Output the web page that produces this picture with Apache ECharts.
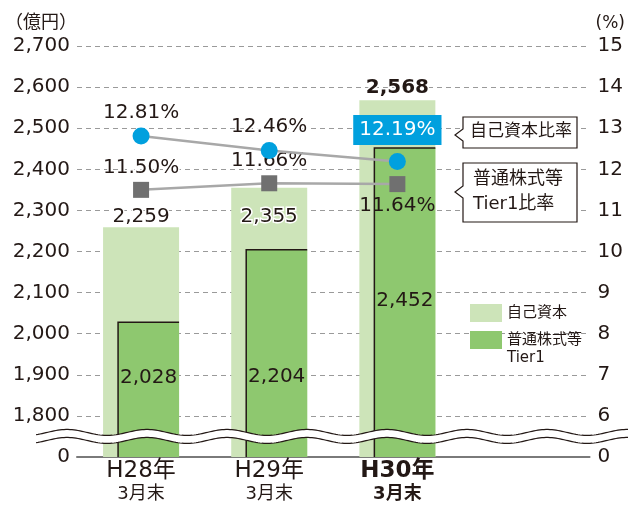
<!DOCTYPE html>
<html>
<head>
<meta charset="utf-8">
<script src="https://cdn.jsdelivr.net/npm/echarts@6/dist/echarts.min.js"></script>
<style>
  html, body { margin: 0; padding: 0; background: #fff; }
  #main { width: 628px; height: 509px; }
</style>
</head>
<body>
<div id="main"></div>
<script>
const years = ['H28年', 'H29年', 'H30年'];
const monthEnd = '3月末';
const capital = [2259, 2355, 2568];          // 自己資本（億円）
const cet1 = [2028, 2204, 2452];             // 普通株式等Tier1（億円）
const capitalRatio = [12.81, 12.46, 12.19];  // 自己資本比率（%）
const cet1Ratio = [11.50, 11.66, 11.64];     // 普通株式等Tier1比率（%）
// 軸は途中を省略（波線）しているので、最下段の目盛りは「0」と表示
const amountTicks = ['0', '1,800', '1,900', '2,000', '2,100', '2,200', '2,300', '2,400', '2,500', '2,600', '2,700'];
const ratioTicks = ['0', '6', '7', '8', '9', '10', '11', '12', '13', '14', '15'];

const FONT = '"DejaVu Sans", "Noto Sans CJK JP", sans-serif';
const INK = '#231815';
const LIGHT = '#cde4b9';
const DARK = '#8ec86f';
const BLUE = '#00a0de';
const AMOUNT_MIN = 1700;
const RATIO_MIN = 5;

const fmt = v => v.toLocaleString('en-US');

const myChart = echarts.init(document.getElementById('main'));

// ラベル位置は元図に合わせて個別に調整
const capitalOffsets = [[0, 1], [0, 40], [0, -1]];
const cet1Offsets = [[0, -12], [0, 23], [0, -2]];

let option = {
  animation: false,
  textStyle: { fontFamily: FONT, color: INK },
  grid: { left: 77, right: 37, top: 46, bottom: 52 },
  legend: {
    data: [
      { name: '自己資本' },
      { name: '普通株式等Tier1', textStyle: { padding: [18, 0, 0, 0] } }
    ],
    orient: 'vertical',
    left: 470,
    top: 304,
    padding: 0,
    itemWidth: 32,
    itemHeight: 18,
    itemGap: 9,
    icon: 'rect',
    selectedMode: false,
    formatter: name => name === '普通株式等Tier1' ? '{a|普通株式等}\n{a|Tier1}' : '{a|' + name + '}',
    textStyle: {
      fontFamily: FONT,
      color: INK,
      rich: { a: { fontSize: 15, lineHeight: 18, fontFamily: FONT, color: INK } }
    }
  },
  xAxis: {
    type: 'category',
    data: years.concat(['']),
    axisTick: { show: false },
    axisLine: { lineStyle: { color: '#7a7a7a', width: 2 } },
    axisLabel: {
      margin: 2,
      interval: 0,
      formatter: (v, i) => {
        if (!v) return '';
        return i === 2 ? '{hb|' + v + '}\n{mb|' + monthEnd + '}' : '{h|' + v + '}\n{m|' + monthEnd + '}';
      },
      rich: {
        h: { fontSize: 23, lineHeight: 24, fontFamily: FONT, color: INK },
        m: { fontSize: 18, lineHeight: 22, fontFamily: FONT, color: INK },
        hb: { fontSize: 23, lineHeight: 24, fontWeight: 'bold', fontFamily: FONT, color: INK },
        mb: { fontSize: 18, lineHeight: 22, fontWeight: 'bold', fontFamily: FONT, color: INK }
      }
    }
  },
  yAxis: [
    {
      type: 'value',
      min: AMOUNT_MIN,
      max: 2700,
      interval: 100,
      name: '（億円）',
      nameGap: 14,
      nameTextStyle: { fontSize: 18, align: 'right', padding: [0, 0, 0, 0], color: INK, fontFamily: FONT },
      axisLine: { show: false },
      axisTick: { show: false },
      axisLabel: {
        margin: 7,
        fontSize: 20,
        color: INK,
        formatter: v => amountTicks[Math.round((v - AMOUNT_MIN) / 100)]
      },
      splitLine: { lineStyle: { color: '#9a9a9a', type: [5, 4], width: 1.2 } }
    },
    {
      type: 'value',
      min: RATIO_MIN,
      max: 15,
      interval: 1,
      position: 'right',
      name: '(%)',
      nameGap: 14,
      nameTextStyle: { fontSize: 17, align: 'left', padding: [0, 0, 0, 6], color: INK, fontFamily: FONT },
      axisLine: { show: false },
      axisTick: { show: false },
      axisLabel: {
        margin: 8,
        fontSize: 20,
        color: INK,
        formatter: v => ratioTicks[Math.round(v - RATIO_MIN)]
      },
      splitLine: { show: false }
    }
  ],
  series: [
    {
      name: '自己資本',
      type: 'bar',
      barWidth: 76,
      barGap: '-80.26%',
      itemStyle: { color: LIGHT },
      data: capital.map((v, i) => ({
        value: v,
        label: {
          show: true,
          position: 'top',
          distance: 0,
          offset: capitalOffsets[i],
          fontSize: 20,
          lineHeight: 22,
          fontWeight: i === 2 ? 'bold' : 'normal',
          color: INK,
          textBorderColor: '#fff',
          textBorderWidth: 3,
          formatter: fmt(v)
        }
      }))
    },
    {
      name: '普通株式等Tier1',
      type: 'bar',
      barWidth: 61,
      barGap: '-80.26%',
      itemStyle: { color: DARK },
      data: cet1.map((v, i) => ({
        value: v,
        label: {
          show: true,
          position: 'inside',
          offset: cet1Offsets[i],
          fontSize: 20,
          lineHeight: 22,
          color: INK,
          formatter: fmt(v)
        }
      }))
    },
    {
      // 濃い棒の左辺と上辺の黒線
      type: 'custom',
      z: 3,
      silent: true,
      data: cet1.map((v, i) => [i, v]),
      encode: { x: 0, y: 1 },
      renderItem: function (params, api) {
        const top = api.coord([api.value(0), api.value(1)]);
        const base = api.coord([api.value(0), AMOUNT_MIN]);
        const left = top[0] - 23;
        const right = top[0] + 38;
        return {
          type: 'polyline',
          shape: { points: [[left, base[1]], [left, top[1]], [right, top[1]]] },
          style: { stroke: INK, lineWidth: 1.5, fill: null }
        };
      }
    },
    {
      name: '自己資本比率',
      type: 'line',
      yAxisIndex: 1,
      z: 6,
      symbol: 'circle',
      symbolSize: 17,
      itemStyle: { color: BLUE },
      lineStyle: { color: '#a8a8a8', width: 2.5 },
      data: capitalRatio.map((v, i) => ({
        value: v,
        label: i === 2 ? {
          show: true, position: 'top', distance: 4, offset: [0, -4],
          fontSize: 20, lineHeight: 22, color: '#fff',
          backgroundColor: BLUE, padding: [4, 6, 4, 6],
          formatter: v.toFixed(2) + '%'
        } : {
          show: true, position: 'top', distance: 4,
          fontSize: 20, lineHeight: 22, color: INK,
          textBorderColor: '#fff', textBorderWidth: 3,
          formatter: v.toFixed(2) + '%'
        }
      }))
    },
    {
      name: '普通株式等Tier1比率',
      type: 'line',
      yAxisIndex: 1,
      z: 5,
      symbol: 'rect',
      symbolSize: 16,
      itemStyle: { color: '#707070' },
      lineStyle: { color: '#a8a8a8', width: 2.5 },
      data: cet1Ratio.map((v, i) => ({
        value: v,
        label: i === 2 ? {
          show: true, position: 'bottom', distance: 3,
          fontSize: 20, lineHeight: 22, color: INK,
          formatter: v.toFixed(2) + '%'
        } : {
          show: true, position: 'top', distance: 3,
          fontSize: 20, lineHeight: 22, color: INK,
          textBorderColor: '#fff', textBorderWidth: 3,
          formatter: v.toFixed(2) + '%'
        }
      }))
    }
  ]
};
myChart.setOption(option);

// 省略線（波線）と吹き出し
const midY = myChart.convertToPixel({ yAxisIndex: 0 }, (AMOUNT_MIN + 1800) / 2);
const upper = [], lower = [];
for (let x = 36; x <= 628; x += 2) {
  const dy = -3 * Math.cos(2 * Math.PI * (x - 67) / 80);
  upper.push([x, midY - 4 + dy]);
  lower.push([x, midY + 4 + dy]);
}

function callout(x, y, w, h, tipY) {
  return [[x, y], [x + w, y], [x + w, y + h], [x, y + h], [x, tipY + 6], [x - 8, tipY], [x, tipY - 6]];
}

myChart.setOption({
  graphic: [
    { type: 'polygon', z: 100, silent: true, shape: { points: upper.concat(lower.slice().reverse()) }, style: { fill: '#fff' } },
    { type: 'polyline', z: 101, silent: true, shape: { points: upper }, style: { stroke: INK, lineWidth: 1.2, fill: null } },
    { type: 'polyline', z: 101, silent: true, shape: { points: lower }, style: { stroke: INK, lineWidth: 1.2, fill: null } },
    { type: 'polygon', z: 100, shape: { points: callout(463, 117, 114, 31, 135) }, style: { fill: '#fff', stroke: INK, lineWidth: 1.2 } },
    { type: 'text', z: 101, left: 470, top: 123, style: { text: '自己資本比率', font: '17px ' + FONT, fill: INK } },
    { type: 'polygon', z: 100, shape: { points: callout(463, 163, 114, 59, 192) }, style: { fill: '#fff', stroke: INK, lineWidth: 1.2 } },
    { type: 'text', z: 101, left: 473, top: 167, style: { text: '普通株式等\nTier1比率', font: '18px ' + FONT, fill: INK, lineHeight: 25, align: 'center' } }
  ]
});
</script>
</body>
</html>
